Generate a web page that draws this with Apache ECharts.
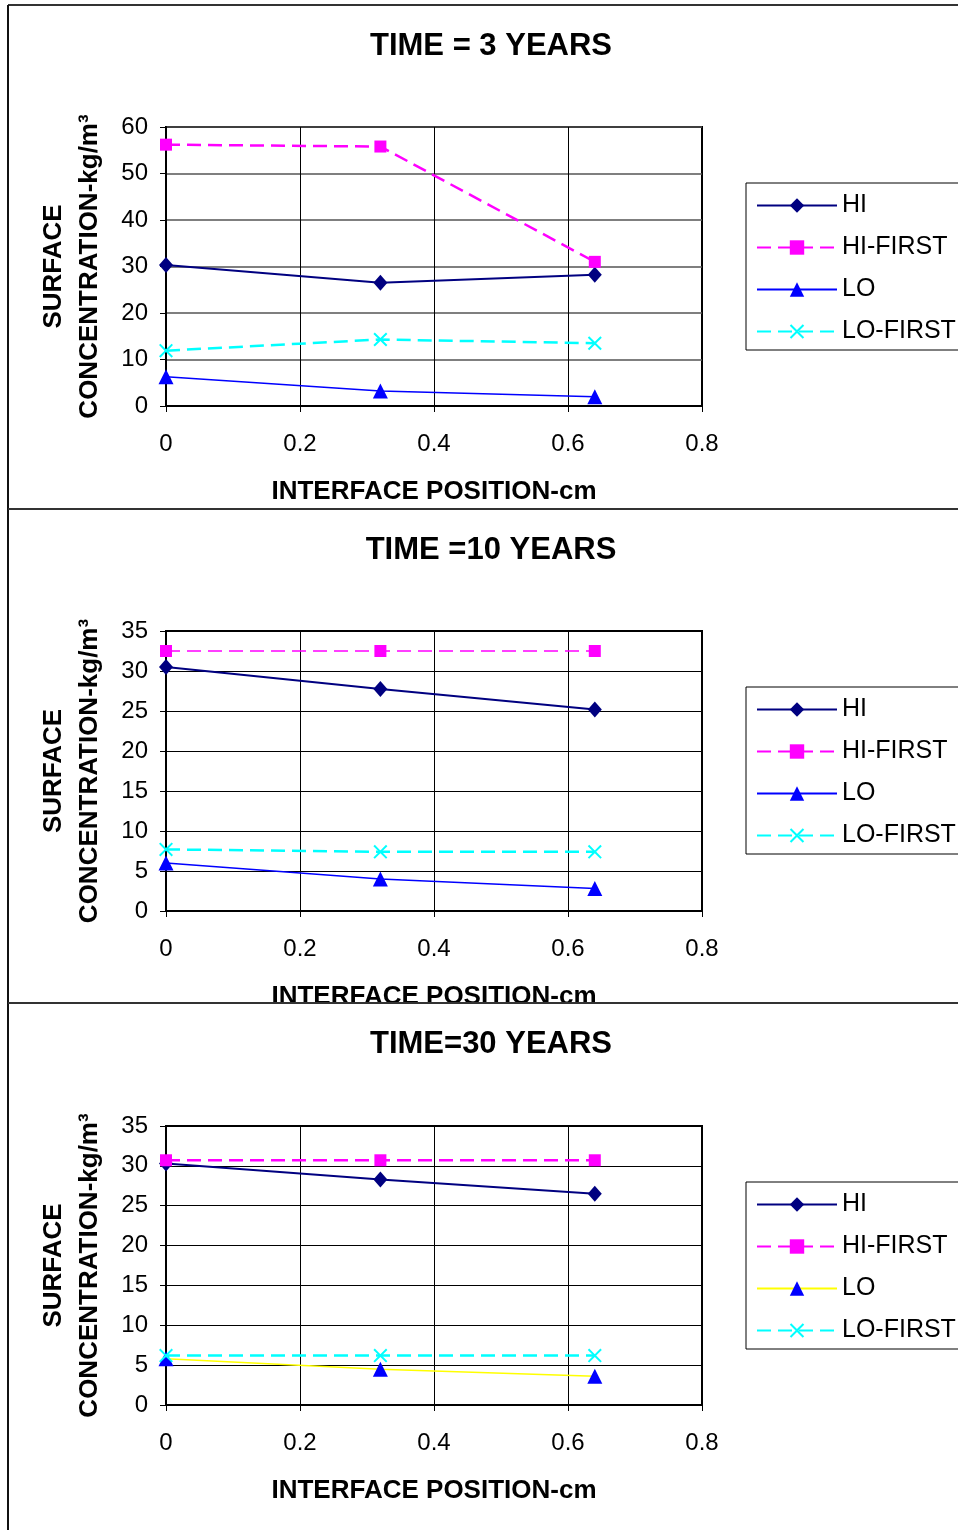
<!DOCTYPE html>
<html>
<head>
<meta charset="utf-8">
<script src="https://cdn.jsdelivr.net/npm/echarts@6/dist/echarts.min.js"></script>
<style>
html,body{margin:0;padding:0;background:#fff;}
#c{width:958px;height:1530px;}
</style>
</head>
<body>
<div id="c"></div>
<script>
// ---- data ----
const xPositions = [0, 0.32, 0.64];
const xTicks = [0, 0.2, 0.4, 0.6, 0.8];
const seriesNames = ['HI', 'HI-FIRST', 'LO', 'LO-FIRST'];
const panelTitles = ['TIME = 3 YEARS', 'TIME =10 YEARS', 'TIME=30 YEARS'];
const yMax = [60, 35, 35];
const yStep = [10, 5, 5];

const t3_HI      = [30.3, 26.5, 28.2];
const t3_HIFIRST = [56.2, 55.8, 31.0];
const t3_LO      = [6.3, 3.2, 2.0];
const t3_LOFIRST = [11.9, 14.3, 13.5];

const t10_HI      = [30.5, 27.75, 25.2];
const t10_HIFIRST = [32.5, 32.5, 32.5];
const t10_LO      = [6.0, 4.0, 2.8];
const t10_LOFIRST = [7.7, 7.4, 7.4];

const t30_HI      = [30.3, 28.3, 26.5];
const t30_HIFIRST = [30.7, 30.7, 30.7];
const t30_LO      = [5.8, 4.5, 3.6];
const t30_LOFIRST = [6.2, 6.2, 6.2];

const panelData = [
  [t3_HI, t3_HIFIRST, t3_LO, t3_LOFIRST],
  [t10_HI, t10_HIFIRST, t10_LO, t10_LOFIRST],
  [t30_HI, t30_HIFIRST, t30_LO, t30_LOFIRST]
];

// ---- layout / style ----
const FONT = 'Liberation Sans';
const gridTops = [127, 631, 1126];
const gridH = [279, 280, 279];
const titleTops = [26, 530, 1024];
const legendTops = [183, 687, 1182];
const xSym = 'path://M0,1L1,0L5,4L9,0L10,1L6,5L10,9L9,10L5,6L1,10L0,9L4,5Z';

function styleFor(panel, k) {
  const lo3Color = panel === 2 ? '#FFFF00' : '#0000FF';
  const hiFirstW = panel === 1 ? 1.5 : 2.5;
  return [
    {symbol: 'diamond', symbolSize: [14, 16], color: '#000080', line: {color: '#000080', width: 2, type: 'solid'}},
    {symbol: 'rect', symbolSize: 12, color: '#FF00FF', line: {color: '#FF00FF', width: hiFirstW, type: [14, 7]}},
    {symbol: 'triangle', symbolSize: 15, color: '#0000FF', line: {color: lo3Color, width: 1.5, type: 'solid'}},
    {symbol: xSym, symbolSize: 14, color: '#00FFFF', line: {color: '#00FFFF', width: 2.5, type: [14, 7]}}
  ][k];
}

const grids = [], xAxes = [], yAxes = [], series = [], titles = [], legends = [];
for (let p = 0; p < 3; p++) {
  grids.push({left: 166, top: gridTops[p], width: 536, height: gridH[p], show: true,
    borderColor: '#000', borderWidth: 2, backgroundColor: '#fff'});
  xAxes.push({
    type: 'value', gridIndex: p, min: xTicks[0], max: xTicks[xTicks.length - 1], interval: 0.2,
    name: 'INTERFACE POSITION-cm', nameLocation: 'middle', nameGap: 73,
    nameTextStyle: {fontFamily: FONT, fontSize: 26, fontWeight: 'bold', color: '#000'},
    axisLine: {onZero: false, lineStyle: {color: '#000', width: 2}},
    axisTick: {show: true, inside: false, length: 6, lineStyle: {color: '#000', width: 1}},
    axisLabel: {fontFamily: FONT, fontSize: 24, color: '#000', margin: 26},
    splitLine: {show: true, lineStyle: {color: '#000', width: 1}}
  });
  yAxes.push({
    type: 'value', gridIndex: p, min: 0, max: yMax[p], interval: yStep[p],
    name: 'SURFACE\nCONCENTRATION-kg/m³', nameLocation: 'middle', nameGap: 58, nameRotate: 90,
    nameTextStyle: {fontFamily: FONT, fontSize: 26, fontWeight: 'bold', color: '#000', lineHeight: 36},
    axisLine: {onZero: false, lineStyle: {color: '#000', width: 2}},
    axisTick: {show: true, inside: false, length: 6, lineStyle: {color: '#000', width: 1}},
    axisLabel: {fontFamily: FONT, fontSize: 24, color: '#000', margin: 18},
    splitLine: {show: true, lineStyle: {color: p === 0 ? '#555' : '#000', width: p === 0 ? 1.5 : 1}}
  });
  titles.push({text: panelTitles[p], left: 486, top: titleTops[p], textAlign: 'center',
    textStyle: {fontFamily: FONT, fontSize: 31, fontWeight: 'bold', color: '#000'}});
  legends.push({
    orient: 'vertical', left: 746, top: legendTops[p],
    data: seriesNames.map(n => n + '|' + p),
    formatter: name => name.split('|')[0],
    itemWidth: 80, itemHeight: 18, itemGap: 17,
    padding: [10, 40, 6, 10],
    borderColor: '#000', borderWidth: 1, backgroundColor: '#fff',
    textStyle: {fontFamily: FONT, fontSize: 25, color: '#000'},
    selectedMode: false
  });
  for (let k = 0; k < 4; k++) {
    const s = styleFor(p, k);
    series.push({
      type: 'line', name: seriesNames[k] + '|' + p, xAxisIndex: p, yAxisIndex: p,
      data: xPositions.map((x, i) => [x, panelData[p][k][i]]),
      symbol: s.symbol, symbolSize: s.symbolSize,
      itemStyle: {color: s.color},
      lineStyle: s.line,
      z: 3 + k,
      animation: false
    });
  }
}

const chart = echarts.init(document.getElementById('c'), null, {renderer: 'canvas'});
chart.setOption({
  backgroundColor: '#fff',
  animation: false,
  title: titles,
  legend: legends,
  grid: grids,
  xAxis: xAxes,
  yAxis: yAxes,
  series: series,
  graphic: [
    {type: 'rect', shape: {x: 9, y: 1004, width: 949, height: 10}, style: {fill: '#fff'}, z: 100},
    {type: 'line', shape: {x1: 8, y1: 5, x2: 958, y2: 5}, style: {stroke: '#333', lineWidth: 2}, z: 101},
    {type: 'line', shape: {x1: 8, y1: 5, x2: 8, y2: 1530}, style: {stroke: '#111', lineWidth: 2}, z: 101},
    {type: 'line', shape: {x1: 8, y1: 509, x2: 958, y2: 509}, style: {stroke: '#333', lineWidth: 2}, z: 101},
    {type: 'line', shape: {x1: 8, y1: 1003, x2: 958, y2: 1003}, style: {stroke: '#333', lineWidth: 2}, z: 101}
  ]
});
</script>
</body>
</html>
